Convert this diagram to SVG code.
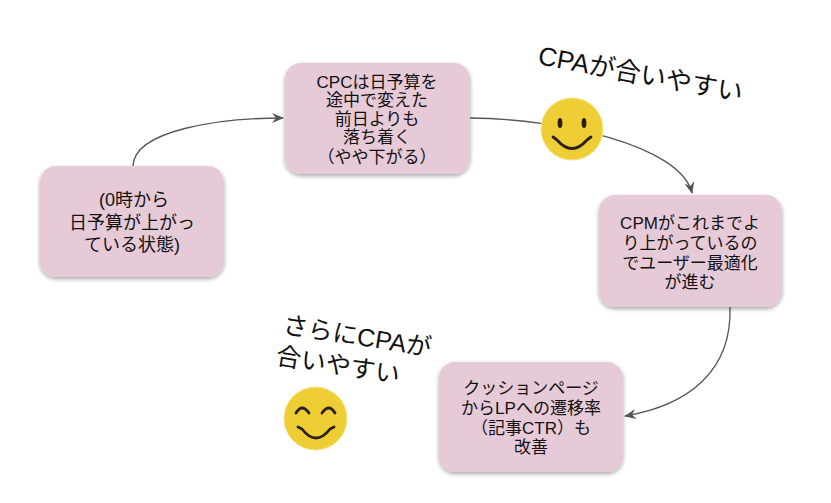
<svg xmlns="http://www.w3.org/2000/svg" width="831" height="503" viewBox="0 0 831 503">
<defs>
<style>
.box{fill:#E7CAD7;filter:url(#sh);}
.t{font-family:"Liberation Sans","Noto Sans CJK JP",sans-serif;font-size:16px;fill:#111;text-anchor:middle;}
.big{font-family:"Liberation Sans","Noto Sans CJK JP",sans-serif;font-size:26px;fill:#111;}
.conn{fill:none;stroke:#555;stroke-width:1.3;}
.face{fill:#EECE34;stroke:#F6E38A;stroke-width:1;}
.feat{fill:none;stroke:#2a201c;stroke-width:2.8;stroke-linecap:round;}
</style>
<filter id="sh" x="-10%" y="-10%" width="130%" height="130%">
<feDropShadow dx="0" dy="2" stdDeviation="2" flood-color="#000" flood-opacity="0.35"/>
</filter>
<marker id="ar" viewBox="0 0 12 10" refX="11" refY="5" markerWidth="12" markerHeight="10" markerUnits="userSpaceOnUse" orient="auto">
<path d="M0,0 L12,5 L0,10 L4,5 Z" fill="#555"/>
</marker>
</defs>
<rect width="831" height="503" fill="#fff"/>
<g id="connectors">
<path class="conn" d="M133,166 C134,130 220,118 283,118" marker-end="url(#ar)"/>
<path class="conn" d="M470,118 C560,119 680,145 692,193" marker-end="url(#ar)"/>
<path class="conn" d="M730,307 C732,370 690,405 625,416" marker-end="url(#ar)"/>
</g>
<g id="node1">
<rect class="box" x="40" y="166" width="184" height="111" rx="16"/>
<text class="t" style="font-size:18px"><tspan x="134" y="206">(0時から</tspan><tspan x="132" y="229">日予算が上がっ</tspan><tspan x="132" y="251">ている状態)</tspan></text>
</g>
<g id="node2">
<rect class="box" x="285" y="63" width="185" height="111" rx="16"/>
<text class="t" style="font-size:17px"><tspan x="377" y="88">CPCは日予算を</tspan><tspan x="377" y="106">途中で変えた</tspan><tspan x="377" y="125">前日よりも</tspan><tspan x="377" y="143">落ち着く</tspan><tspan x="377" y="163">（やや下がる）</tspan></text>
</g>
<g id="node3">
<rect class="box" x="599" y="195" width="183" height="112" rx="16"/>
<text class="t" style="font-size:17px"><tspan x="690" y="229">CPMがこれまでよ</tspan><tspan x="690" y="249">り上がっているの</tspan><tspan x="690" y="269">でユーザー最適化</tspan><tspan x="690" y="288">が進む</tspan></text>
</g>
<g id="node4">
<rect class="box" x="439" y="362" width="184" height="110" rx="16"/>
<text class="t" style="font-size:17px"><tspan x="531" y="394">クッションページ</tspan><tspan x="531" y="414">からLPへの遷移率</tspan><tspan x="531" y="434">（記事CTR）も</tspan><tspan x="531" y="453">改善</tspan></text>
</g>
<g id="smiley1">
<circle class="face" cx="572" cy="129" r="31"/>
<ellipse cx="560" cy="123" rx="2.4" ry="5" fill="#2a201c"/>
<ellipse cx="584" cy="123" rx="2.4" ry="5" fill="#2a201c"/>
<path class="feat" d="M553,137 Q556,139 557,140 Q572,157 587,140 Q588,139 591,137"/>
</g>
<g id="smiley2">
<circle class="face" cx="315.5" cy="418.5" r="31.5"/>
<path class="feat" d="M296,413 Q302,403 309,413"/>
<path class="feat" d="M322,413 Q329,403 335,413"/>
<path class="feat" d="M298,427 Q300,428 302,429 Q316,447 330,429 Q332,428 334,427"/>
</g>
<g id="label1">
<text class="big" x="537" y="64" transform="rotate(10.5 537 64)">CPAが合いやすい</text>
</g>
<g id="label2">
<text class="big" style="font-size:25px" x="282" y="333" transform="rotate(9 282 333)">さらにCPAが</text>
<text class="big" style="font-size:25px" x="275" y="364" transform="rotate(9 275 364)">合いやすい</text>
</g>
</svg>
